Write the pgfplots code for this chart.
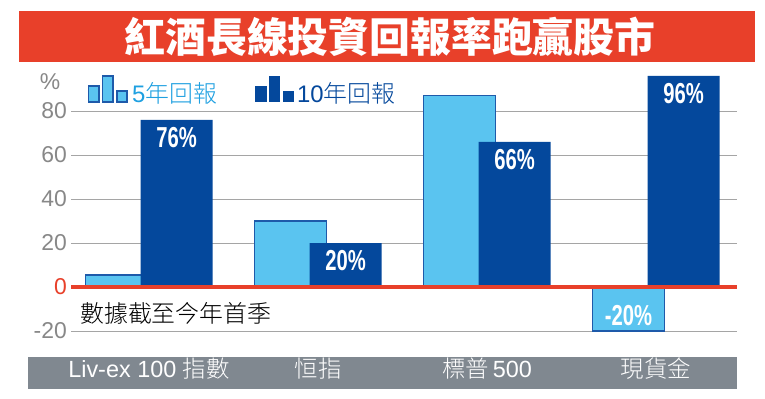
\documentclass[border=0pt]{standalone}
\usepackage{pgfplots}
\pgfplotsset{compat=1.18}
\usepackage{graphicx}
\usepackage{fontspec}
\setmainfont{Liberation Sans}
\newfontfamily\cjk{Noto Sans CJK TC}
\newfontfamily\cjkl{Noto Sans CJK TC Light}
\definecolor{titlered}{RGB}{232,64,42}
\definecolor{lightbar}{RGB}{90,196,240}
\definecolor{darkbar}{RGB}{4,72,156}
\definecolor{lightedge}{RGB}{30,90,170}
\definecolor{lighttext}{RGB}{30,160,225}
\definecolor{bandgrey}{RGB}{128,136,144}
\definecolor{tickgrey}{RGB}{136,136,136}
\definecolor{gridgrey}{RGB}{165,165,165}
\begin{document}
\begin{tikzpicture}[x=1bp,y=1bp]
\useasboundingbox (0,0) rectangle (765,398);
\fill[white] (0,0) rectangle (765,398);
% title banner
\fill[titlered] (19,336) rectangle (755,387);
\node[text=white,font=\cjk\bfseries\fontsize{41}{41}\selectfont,inner sep=0pt] at (390,361.5) {紅酒長線投資回報率跑贏股市};
% bottom band
\fill[bandgrey] (28,9) rectangle (737,41);
\begin{axis}[
  at={(71bp,67bp)}, anchor=south west, scale only axis,
  width=666bp, height=264bp,
  xmin=-0.4615, xmax=3.479, ymin=-20, ymax=100,
  axis line style={draw=none}, major tick length=0pt,
  ytick={-20,20,40,60,80},
  ymajorgrids, grid style={gridgrey, line width=1bp},
  extra y ticks={0}, extra y tick labels={\color{titlered}0},
  extra y tick style={grid=none},
  /pgf/number format/assume math mode=true,
  yticklabel style={font=\fontsize{23}{23}\selectfont, text=tickgrey, anchor=east, inner sep=0pt, xshift=-4bp},
  xtick={0,1,2,3},
  xticklabels={{Liv-ex 100 \cjkl 指數},{\cjkl 恒指},{\cjkl 標普\,}500,{\cjkl 現貨金}},
  xticklabel style={font=\fontsize{23.5}{23.5}\selectfont, text=white, anchor=center, inner sep=0pt, yshift=-38bp},
  ybar, bar width=72bp,
  clip=false,
]
\addplot[fill=lightbar, draw=lightedge, line width=1.3bp, bar shift=-27.5bp,
  point meta=explicit symbolic,
  nodes near coords={\scalebox{0.7}[1]{\pgfplotspointmeta}},
  every node near coord/.append style={anchor=center, yshift=15bp, text=white, font=\bfseries\fontsize{29}{29}\selectfont}]
  coordinates {(0,5.5) [{}] (1,30) [{}] (2,87) [{}] (3,-20) [{-20\%}]};
\addplot[fill=darkbar, draw=none, bar shift=27.5bp,
  point meta=explicit symbolic,
  nodes near coords={\scalebox{0.7}[1]{\pgfplotspointmeta}},
  every node near coord/.append style={anchor=center, yshift=-18bp, text=white, font=\bfseries\fontsize{29}{29}\selectfont}]
  coordinates {(0,76) [76\%] (1,20) [20\%] (2,66) [66\%] (3,96) [96\%]};
\draw[titlered, line width=4bp] (axis cs:-0.4615,0) -- (axis cs:3.479,0);
\end{axis}
% percent sign
\node[text=tickgrey, font=\fontsize{23}{23}\selectfont, inner sep=0pt] at (50,316) {\%};
% legend
\fill[lightbar, draw=lightedge, line width=1.2bp] (88.5,296) rectangle (99,312);
\fill[lightbar, draw=lightedge, line width=1.2bp] (102.5,296) rectangle (113,322);
\fill[lightbar, draw=lightedge, line width=1.2bp] (117,296) rectangle (127,307);
\node[anchor=west, text=lighttext, font=\fontsize{24}{24}\selectfont, inner sep=0pt] at (132,305) {5\cjkl 年回報};
\fill[darkbar] (255,296) rectangle (267,312);
\fill[darkbar] (268.5,296) rectangle (279.5,322);
\fill[darkbar] (283,296) rectangle (293.5,307);
\node[anchor=west, text=darkbar, font=\fontsize{24}{24}\selectfont, inner sep=0pt] at (297,305) {10\cjkl 年回報};
% note
\node[anchor=west, text=black, font=\cjkl\fontsize{24}{24}\selectfont, inner sep=0pt] at (80,85) {數據截至今年首季};
\end{tikzpicture}
\end{document}
